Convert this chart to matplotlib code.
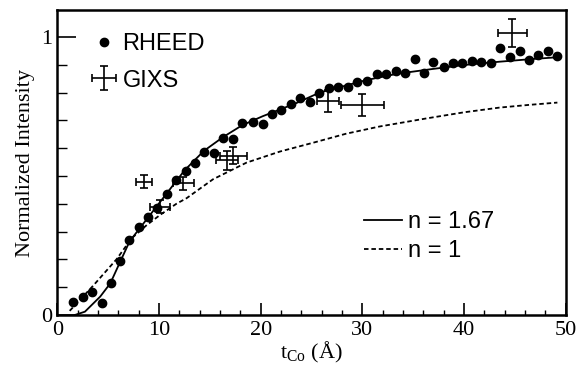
import matplotlib
matplotlib.use("Agg")
import matplotlib.pyplot as plt
from matplotlib.ticker import MultipleLocator

plt.rcParams['mathtext.fontset'] = 'custom'
plt.rcParams['mathtext.rm'] = 'Liberation Serif'
plt.rcParams['mathtext.it'] = 'Liberation Serif:italic'

# RHEED data
rheed_t = [1.55, 2.47, 3.42, 4.35, 5.23, 6.15, 7.06, 7.98, 8.9, 9.81, 10.74, 11.65, 12.6,
           13.5, 14.4, 15.4, 16.3, 17.3, 18.2, 19.2, 20.2, 21.1, 22.0, 23.0, 23.85, 24.9,
           25.7, 26.7, 27.6, 28.6, 29.5, 30.5, 31.4, 32.3, 33.3, 34.2, 35.15, 36.1, 37.0,
           38.0, 38.9, 39.8, 40.8, 41.7, 42.65, 43.6, 44.56, 45.5, 46.4, 47.3, 48.3, 49.2]
rheed_i = [0.048, 0.066, 0.081, 0.044, 0.114, 0.195, 0.27, 0.318, 0.353, 0.386, 0.435, 0.486, 0.519,
           0.546, 0.587, 0.582, 0.636, 0.632, 0.692, 0.695, 0.687, 0.723, 0.737, 0.759, 0.779, 0.767,
           0.80, 0.815, 0.821, 0.819, 0.839, 0.842, 0.867, 0.867, 0.879, 0.872, 0.92, 0.872, 0.911,
           0.893, 0.908, 0.908, 0.915, 0.911, 0.905, 0.959, 0.927, 0.951, 0.917, 0.935, 0.951, 0.932]

# GIXS data with error bars
gixs_t = [8.5, 10.08, 12.4, 16.7, 17.3, 26.65, 30.0, 44.76]
gixs_i = [0.48, 0.39, 0.474, 0.556, 0.573, 0.77, 0.755, 1.013]
gixs_terr = [0.82, 1.0, 1.06, 1.06, 1.35, 1.07, 2.13, 1.44]
gixs_ierr = [0.024, 0.024, 0.024, 0.033, 0.03, 0.04, 0.04, 0.05]

# Model curves
fit167_t = [1.7, 2.7, 4.2, 5.2, 6.15, 7.1, 8.9, 10.7, 12.5, 14.4, 16.3, 18.2, 20.2, 23.5,
            25.8, 30.4, 33.5, 36.95, 40.0, 43.5, 46.5, 49.2]
fit167_i = [0.0, 0.012, 0.066, 0.114, 0.19, 0.265, 0.35, 0.435, 0.52, 0.59, 0.64, 0.683, 0.715,
            0.762, 0.80, 0.845, 0.868, 0.885, 0.899, 0.911, 0.92, 0.927]
fit1_t = [1.2, 3.5, 5.8, 7.3, 8.8, 10.1, 11.7, 12.7, 15.3, 18.6, 21.9, 25.2, 28.4, 31.7,
          36.3, 40.0, 43.5, 46.5, 49.2]
fit1_i = [0.015, 0.105, 0.2, 0.276, 0.324, 0.36, 0.40, 0.42, 0.488, 0.548, 0.588, 0.62, 0.652,
          0.678, 0.707, 0.729, 0.746, 0.756, 0.764]

xticks = [0, 10, 20, 30, 40, 50]
yticks = [0, 1]

fig = plt.figure(figsize=(5.79, 3.66), dpi=100)
ax = fig.add_axes([0.0993, 0.1393, 0.8774, 0.8334])

ax.plot(fit167_t, fit167_i, color='black', lw=1.3, label='n = 1.67')
ax.plot(fit1_t, fit1_i, color='black', lw=1.3, ls=(0, (2.5, 1.6)), label='n = 1')
h1, = ax.plot(rheed_t, rheed_i, 'o', color='black', ms=6, label='RHEED')
h2 = ax.errorbar(gixs_t, gixs_i, xerr=gixs_terr, yerr=gixs_ierr, fmt='none',
                 ecolor='black', elinewidth=1.2, capsize=3, capthick=1.2, label='GIXS')

ax.set_xlim(0, 50)
ax.set_ylim(0, 1.097)
ax.set_xticks(xticks)
ax.set_yticks(yticks)
ax.xaxis.set_minor_locator(MultipleLocator(2))
ax.yaxis.set_minor_locator(MultipleLocator(0.1))
ax.tick_params(axis='x', which='major', direction='in', length=9, width=1.2, pad=4)
ax.tick_params(axis='x', which='minor', direction='in', length=3.5, width=1.0)
ax.tick_params(axis='y', which='major', direction='in', length=14, width=1.2, pad=4)
ax.tick_params(axis='y', which='minor', direction='in', length=7, width=1.0)
for lab in ax.get_xticklabels() + ax.get_yticklabels():
    lab.set_fontfamily('Liberation Serif')
    lab.set_fontsize(16)
for s in ax.spines.values():
    s.set_linewidth(1.8)

ax.set_xlabel(r'$\mathrm{t_{Co}}$ (Å)', fontfamily='Liberation Serif', fontsize=16, labelpad=0)
ax.set_ylabel('Normalized Intensity', fontfamily='Liberation Serif', fontsize=16, labelpad=4)

leg1 = ax.legend(handles=[h1, h2], loc='upper left', bbox_to_anchor=(0.072, 0.925),
                 frameon=False, prop={'family': 'Liberation Sans', 'size': 17},
                 handlelength=0.85, handletextpad=0.35, labelspacing=0.62,
                 borderpad=0, borderaxespad=0)
ax.add_artist(leg1)
lines = ax.get_lines()[:2]
ax.legend(handles=lines, loc='upper left', bbox_to_anchor=(0.603, 0.34),
          frameon=False, prop={'family': 'Liberation Sans', 'size': 17},
          handlelength=1.6, handletextpad=0.25, labelspacing=0.28,
          borderpad=0, borderaxespad=0)

fig.savefig('out.png', dpi=100)
